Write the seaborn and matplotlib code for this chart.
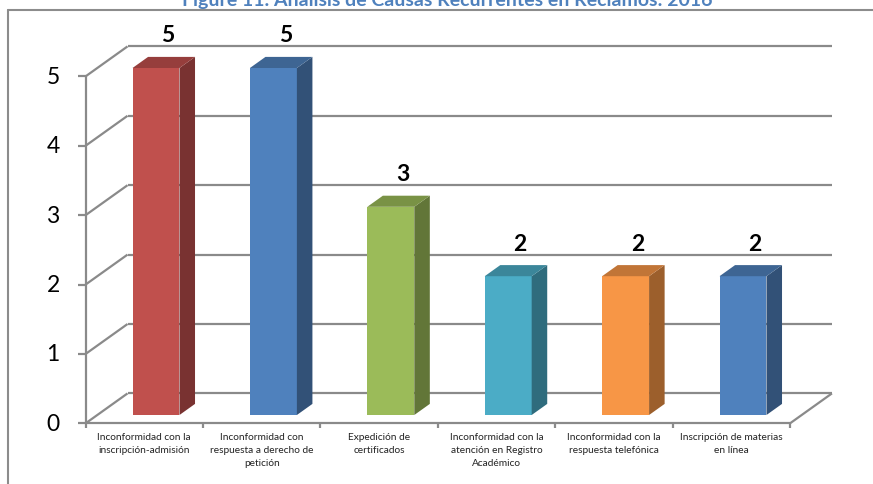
import matplotlib
matplotlib.use("Agg")
import matplotlib.pyplot as plt
import seaborn as sns
import pandas as pd
import numpy as np
from matplotlib.patches import Polygon
from matplotlib.lines import Line2D
from matplotlib.colors import to_rgb

# ---------------- data ----------------
categories = [
    "Inconformidad con la\ninscripción-admisión",
    "Inconformidad con\nrespuesta a derecho de\npetición",
    "Expedición de\ncertificados",
    "Inconformidad con la\natención en Registro\nAcadémico",
    "Inconformidad con la\nrespuesta telefónica",
    "Inscripción de materias\nen línea",
]
values = [5, 5, 3, 2, 2, 2]
colors = ["#C0504D", "#4F81BD", "#9BBB59", "#4BACC6", "#F79646", "#4F81BD"]
yticks = [0, 1, 2, 3, 4, 5]
title = "Figure 11. Análisis de Causas Recurrentes en Reclamos: 2016"

# ---------------- style ----------------
sns.set_theme(style="white")
plt.rcParams['font.family'] = ['Lato', 'DejaVu Sans']

W, H = 873, 485
fig = plt.figure(figsize=(W / 100, H / 100), dpi=100)
ax = fig.add_axes([0, 0, 1, 1])

df = pd.DataFrame({"cat": categories, "val": values})
sns.barplot(data=df, x="cat", y="val", hue="cat", palette=colors, width=0.4,
            legend=False, ax=ax, saturation=1, linewidth=0, zorder=3)

# pixel mapping of the bar front plane
X0, SX = 156.0, 117.4     # px of category 0, px per category
Y0, SY = 416.0, 69.4      # px (from top) of value 0, px per unit
ax.set_xlim((0 - X0) / SX, (W - X0) / SX)
ax.set_ylim((Y0 - H) / SY, Y0 / SY)
ax.axis('off')

# pseudo-3D depth
DX, DY = 42.0 / SX, 30.0 / SY
D0 = 0.28    # depth of bar front plane (0 = floor front, 1 = back wall)
BD = 0.37    # bar depth


def P(x, y, d):
    return (x + (d - D0) * DX, y + (d - D0) * DY)


gc = "#8A8A8A"
glw = 1.6
n = len(categories)
xl, xr = -0.5, n - 0.5


def seg(p, q, z=1):
    ax.add_line(Line2D([p[0], q[0]], [p[1], q[1]], color=gc, lw=glw,
                       zorder=z, solid_capstyle='butt'))


for v in yticks:
    seg(P(xl, v, 1), P(xr, v, 1))          # back wall grid
    seg(P(xl, v, 0), P(xl, v, 1))          # side wall diagonal
    a = P(xl, v, 0)
    seg((a[0] - 8 / SX, a[1]), a)          # tick mark
    ax.text((53 - X0) / SX, a[1], str(v), ha='center', va='center',
            fontsize=16.5, color='black')
seg(P(xl, 0, 0), P(xl, max(yticks), 0))    # front vertical axis
seg(P(xl, 0, 0), P(xr, 0, 0))              # floor front edge
seg(P(xr, 0, 0), P(xr, 0, 1))              # floor right edge
for i in range(n + 1):
    a = P(xl + i, 0, 0)
    seg(a, (a[0], a[1] - 5 / SY))

# 3D faces on the seaborn bars
for patch, val, col in zip(ax.patches, values, colors):
    x, w, h = patch.get_x(), patch.get_width(), patch.get_height()
    rgb = np.array(to_rgb(col))
    side = rgb * 0.63
    top = rgb * 0.78
    ox, oy = BD * DX, BD * DY
    ax.add_patch(Polygon([(x + w, 0), (x + w, h), (x + w + ox, h + oy), (x + w + ox, oy)],
                         closed=True, facecolor=side, edgecolor='none', zorder=3))
    ax.add_patch(Polygon([(x, h), (x + w, h), (x + w + ox, h + oy), (x + ox, h + oy)],
                         closed=True, facecolor=top, edgecolor='none', zorder=3))
    ax.text(x + w / 2 + 12 / SX, h + 33 / SY, str(val), ha='center', va='center',
            fontsize=16.5, fontweight='bold', color='black', zorder=5)

# category labels
for i, cat in enumerate(categories):
    px = P(i, 0, 0)[0]
    ax.text(px, (Y0 - 433) / SY, cat, ha='center', va='top', fontsize=7.3,
            linespacing=1.55, multialignment='center', color='#222222')

# outer frame (left and top)
fig.add_artist(Line2D([8 / W, 8 / W], [0, 1 - 11 / H], transform=fig.transFigure,
                      color='#8C8C8C', lw=1.5))
fig.add_artist(Line2D([8 / W, 1], [1 - 11 / H, 1 - 11 / H], transform=fig.transFigure,
                      color='#8C8C8C', lw=1.5))

fig.text(447 / W, 1 - 6 / H, title, ha='center', va='baseline', fontsize=14,
         fontweight='bold', color='#4F81BD')

fig.savefig("out.png", dpi=100)
